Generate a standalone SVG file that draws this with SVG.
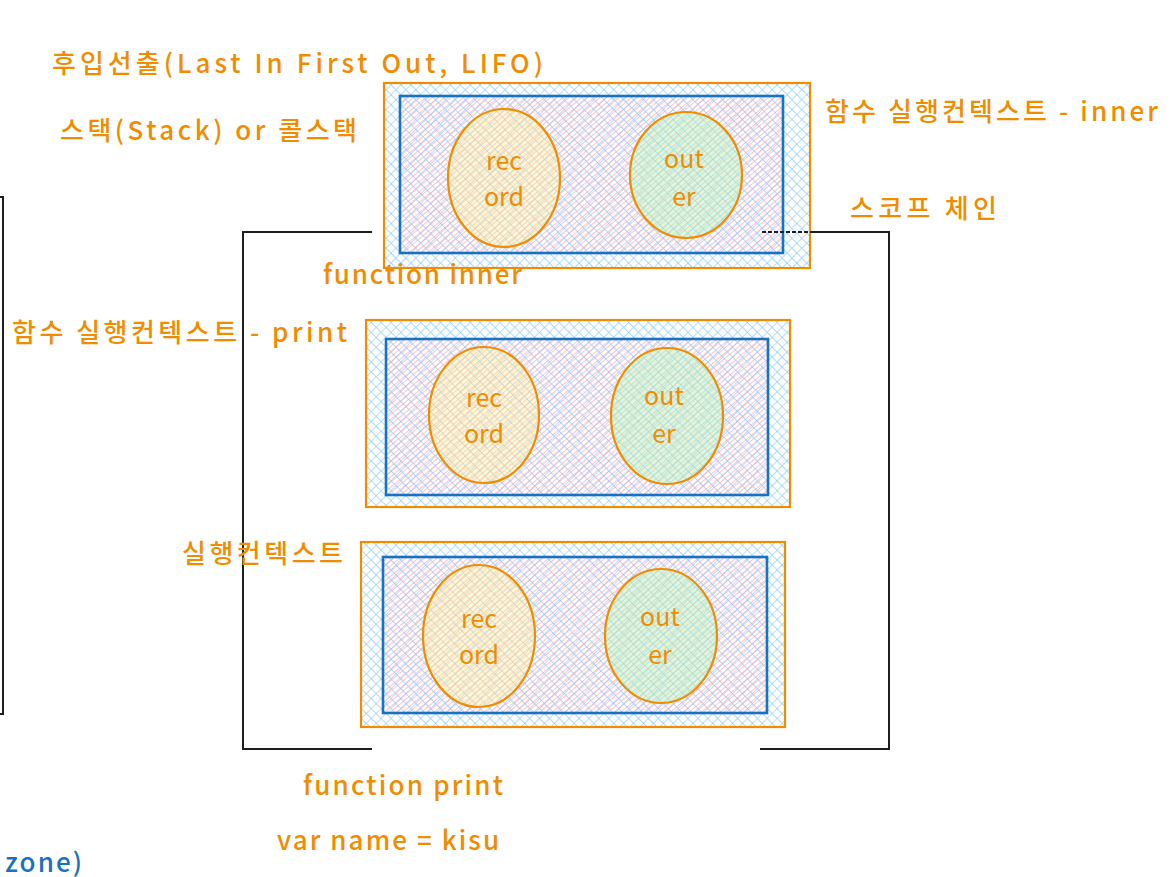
<svg xmlns="http://www.w3.org/2000/svg" width="1171" height="877" viewBox="0 0 1171 877">
<defs>
<pattern id="xh" width="7" height="7" patternUnits="userSpaceOnUse" patternTransform="rotate(45)"><rect width="7" height="7" fill="#ffffff"/><path d="M0 0H7M0 0V7" stroke="#8fcdfc" stroke-width="1.3"/></pattern>
<pattern id="ph" width="4" height="4" patternUnits="userSpaceOnUse" patternTransform="rotate(-40)"><path d="M0 0H4" stroke="#ff9fae" stroke-opacity="0.8" stroke-width="1.6"/></pattern>
<style>
.o{fill:url(#xh);stroke:#f08c00;stroke-width:2.2}
.i{fill:url(#ph);stroke:#1971c2;stroke-width:2.6}
.er{fill:#ffec99;fill-opacity:0.4;stroke:#f08c00;stroke-width:2.2}
.eo{fill:#b2f2bb;fill-opacity:0.45;stroke:#f08c00;stroke-width:2.2}
.t{font-family:"Noto Sans CJK KR","Noto Sans",sans-serif;font-size:26px;fill:#f08c00;font-weight:500}
.s{font-family:"Noto Sans CJK KR","Noto Sans",sans-serif;font-size:25px;fill:#f08c00;text-anchor:middle}
.b{fill:none;stroke:#1e1e1e;stroke-width:2}
</style>
</defs>
<g id="ctx-inner">
<rect class="o" x="384" y="83" width="426" height="185"/>
<rect class="i" x="400" y="96" width="383" height="157"/>
<ellipse class="er" cx="504" cy="178" rx="56" ry="69"/>
<ellipse class="eo" cx="686" cy="175" rx="56" ry="63"/>
<text class="s" x="504" y="170">rec</text><text class="s" x="504" y="206">ord</text>
<text class="s" x="684" y="168">out</text><text class="s" x="684" y="206">er</text>
</g>
<g id="ctx-print">
<rect class="o" x="366" y="320" width="424" height="187"/>
<rect class="i" x="386" y="339" width="382" height="156"/>
<ellipse class="er" cx="484" cy="415" rx="55" ry="68"/>
<ellipse class="eo" cx="667" cy="416" rx="56" ry="68"/>
<text class="s" x="484" y="407">rec</text><text class="s" x="484" y="443">ord</text>
<text class="s" x="664" y="405">out</text><text class="s" x="664" y="443">er</text>
</g>
<g id="ctx-global">
<rect class="o" x="361" y="542" width="424" height="185"/>
<rect class="i" x="383" y="557" width="384" height="156"/>
<ellipse class="er" cx="479" cy="636" rx="56" ry="71"/>
<ellipse class="eo" cx="661" cy="636" rx="56" ry="67"/>
<text class="s" x="479" y="628">rec</text><text class="s" x="479" y="664">ord</text>
<text class="s" x="660" y="626">out</text><text class="s" x="660" y="664">er</text>
</g>
<g id="connectors">
<path class="b" d="M-10 197H3V714H-10"/>
<path class="b" d="M372 232H243V749H372"/>
<path class="b" d="M810 232H889V749H760"/>
<path d="M762 232H810" stroke="#1e1e1e" stroke-width="1.8" stroke-dasharray="4 2" fill="none"/>
</g>
<g id="labels">
<text class="t" x="52" y="73" textLength="491">후입선출(Last In First Out, LIFO)</text>
<text class="t" x="60" y="140" textLength="297">스택(Stack) or 콜스택</text>
<text class="t" x="825" y="121" textLength="333">함수 실행컨텍스트 - inner</text>
<text class="t" x="850" y="218" textLength="147">스코프 체인</text>
<text class="t" x="323" y="284" textLength="199">function inner</text>
<text class="t" x="12" y="342" textLength="335">함수 실행컨텍스트 - print</text>
<text class="t" x="182" y="563" textLength="161">실행컨텍스트</text>
<text class="t" x="303" y="795" textLength="200">function print</text>
<text class="t" x="277" y="850" textLength="222">var name = kisu</text>
<text class="t" x="5" y="872" textLength="77" style="fill:#1971c2">zone)</text>
</g>
</svg>
